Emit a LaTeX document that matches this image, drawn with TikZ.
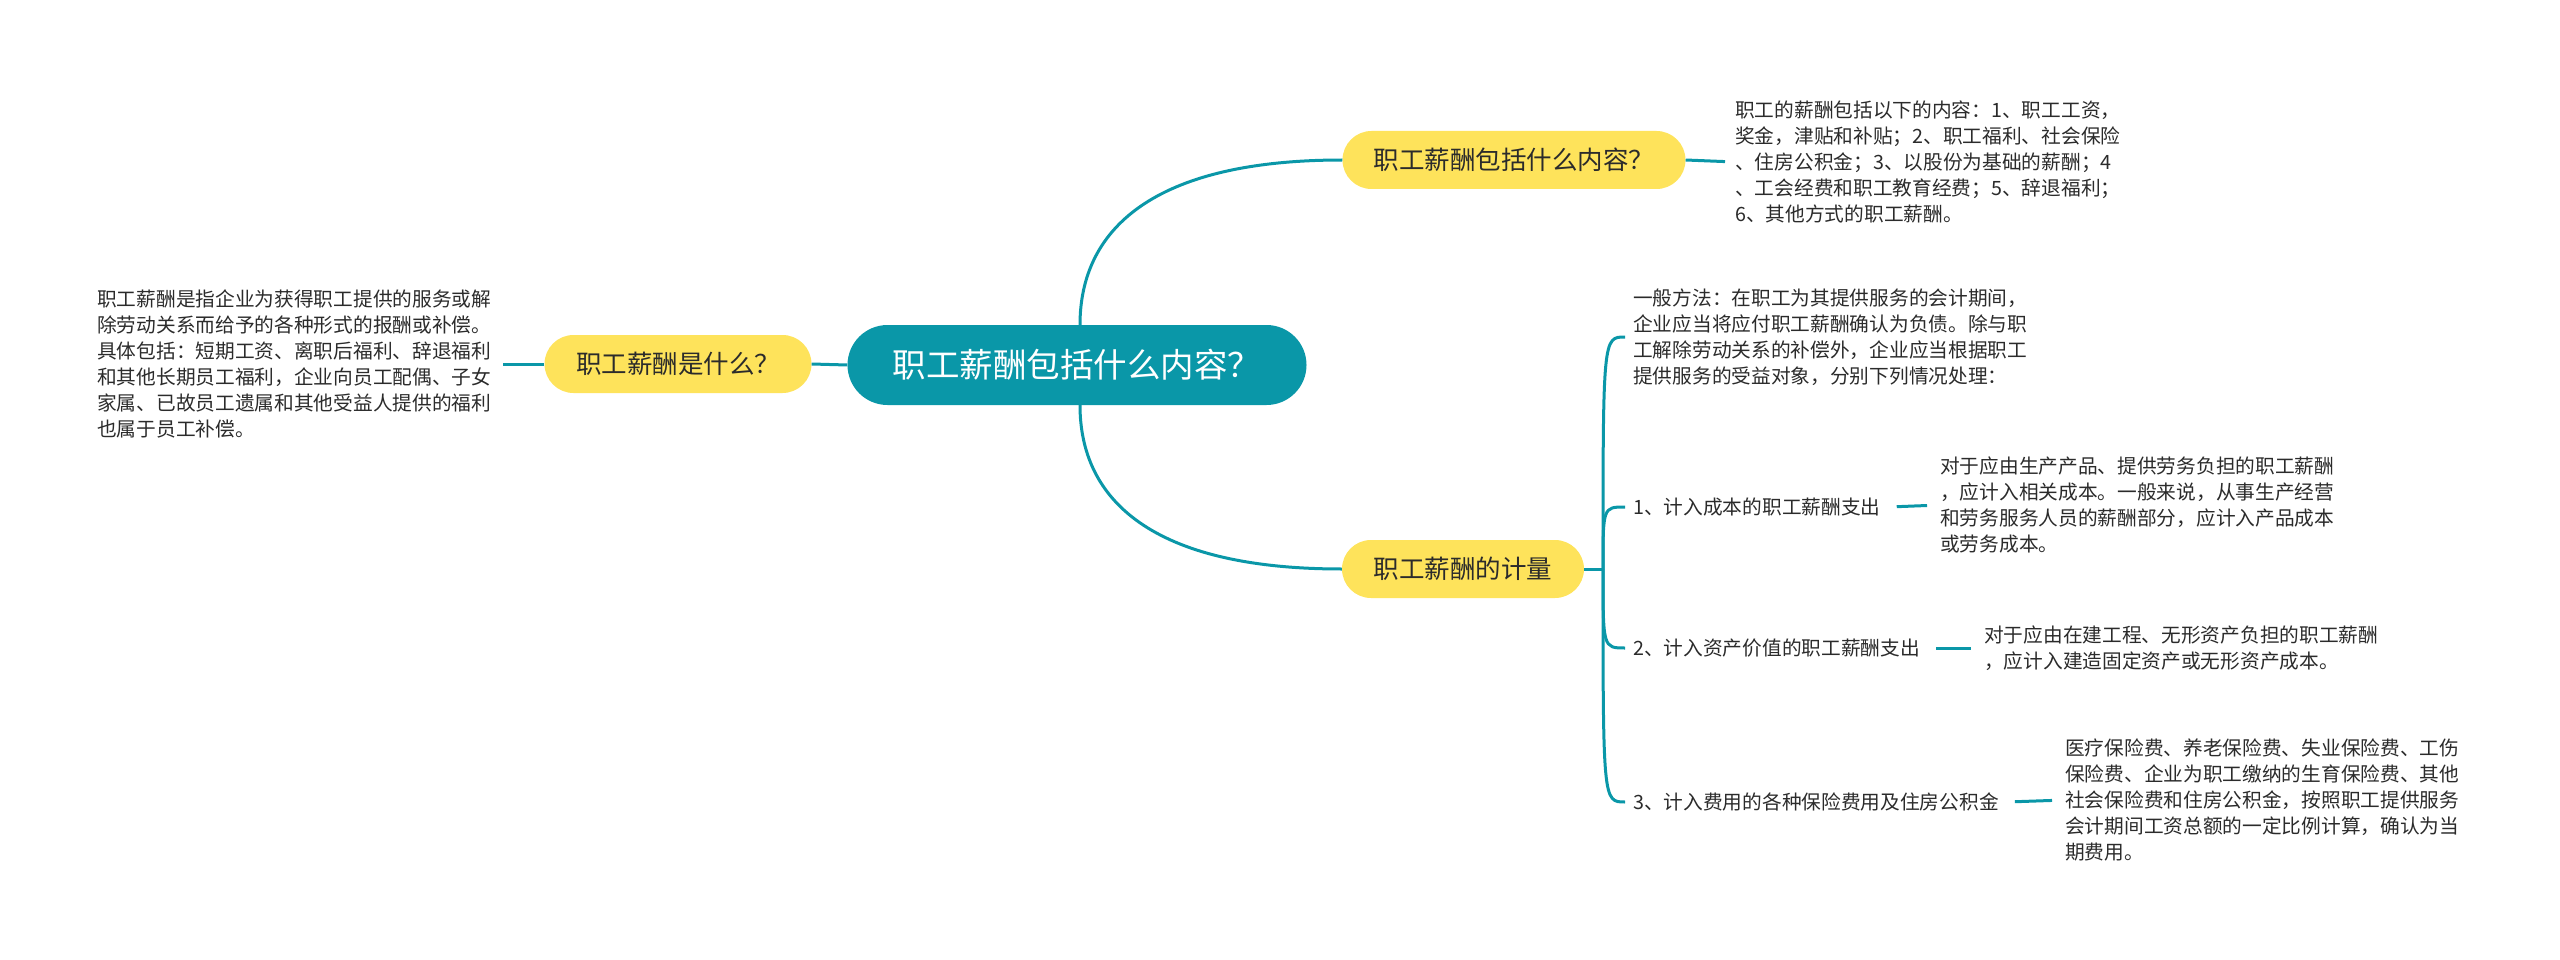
\documentclass[tikz,border=0pt]{standalone}
\usepackage{fontspec}
\setmainfont{Noto Sans CJK SC}
\definecolor{teal1}{HTML}{0A97A8}
\definecolor{yel}{HTML}{FEE35B}
\definecolor{txt}{HTML}{2B2B2B}
\begin{document}
\begin{tikzpicture}[x=1pt,y=-1pt,
  conn/.style={draw=teal1, line width=3pt},
  pill/.style={rounded corners=29pt, fill=yel, text=txt, minimum height=58pt, inner sep=0pt, font=\fontsize{25.5}{30}\selectfont},
  body/.style={anchor=west, align=left, inner sep=0pt, text=txt, font=\fontsize{19.7}{26}\selectfont},
]
\path[use as bounding box] (0,0) rectangle (2560,960);

\node[fill=teal1, text=white, rounded corners=40pt, minimum width=459pt, minimum height=80pt, inner sep=0pt, font=\fontsize{33.5}{38}\selectfont] (c) at (1077,365) {职工薪酬包括什么内容？};

\node[pill, minimum width=267pt] (l) at (678,364) {职工薪酬是什么？};
\node[pill, minimum width=343pt] (t) at (1514,160) {职工薪酬包括什么内容？};
\node[pill, minimum width=242pt] (b) at (1463,569) {职工薪酬的计量};

\node[body] (lt) at (97,364) {职工薪酬是指企业为获得职工提供的服务或解\\
除劳动关系而给予的各种形式的报酬或补偿。\\
具体包括：短期工资、离职后福利、辞退福利\\
和其他长期员工福利，企业向员工配偶、子女\\
家属、已故员工遗属和其他受益人提供的福利\\
也属于员工补偿。};

\node[body] (tt) at (1735,162) {职工的薪酬包括以下的内容：1、职工工资，\\
奖金，津贴和补贴；2、职工福利、社会保险\\
、住房公积金；3、以股份为基础的薪酬；4\\
、工会经费和职工教育经费；5、辞退福利；\\
6、其他方式的职工薪酬。};

\node[body, inner xsep=8pt] (g) at (1625,337) {一般方法：在职工为其提供服务的会计期间，\\
企业应当将应付职工薪酬确认为负债。除与职\\
工解除劳动关系的补偿外，企业应当根据职工\\
提供服务的受益对象，分别下列情况处理：};

\node[body, inner xsep=8pt] (i1) at (1625,507) {1、计入成本的职工薪酬支出};
\node[body, inner xsep=8pt] (i2) at (1625,648) {2、计入资产价值的职工薪酬支出};
\node[body, inner xsep=8pt] (i3) at (1625,802) {3、计入费用的各种保险费用及住房公积金};

\node[body] (d1) at (1940,505) {对于应由生产产品、提供劳务负担的职工薪酬\\
，应计入相关成本。一般来说，从事生产经营\\
和劳务服务人员的薪酬部分，应计入产品成本\\
或劳务成本。};
\node[body] (d2) at (1984,648) {对于应由在建工程、无形资产负担的职工薪酬\\
，应计入建造固定资产或无形资产成本。};
\node[body] (d3) at (2065,800) {医疗保险费、养老保险费、失业保险费、工伤\\
保险费、企业为职工缴纳的生育保险费、其他\\
社会保险费和住房公积金，按照职工提供服务\\
会计期间工资总额的一定比例计算，确认为当\\
期费用。};

\coordinate (j) at (1603,569);

\draw[conn] (c.west) -- (l.east);
\draw[conn] (l.west) -- ([xshift=12pt]lt.east);
\draw[conn] ([xshift=3pt]c.north) .. controls (1080,230) and (1152,160) .. (t.west);
\draw[conn] ([xshift=3pt]c.south) .. controls (1080,500) and (1152,569) .. (b.west);
\draw[conn, shorten >=10pt] (t.east) -- (tt.west);
\draw[conn] (b.east) -- (j);
\foreach \n in {g,i1,i2,i3}
  \draw[conn] (j) .. controls (j |- \n.west) and (j |- \n.west) .. (\n.west);
\draw[conn, shorten <=8pt, shorten >=13pt] (i1.east) -- (d1.west);
\draw[conn, shorten <=8pt, shorten >=13pt] (i2.east) -- (d2.west);
\draw[conn, shorten <=8pt, shorten >=13pt] (i3.east) -- (d3.west);
\end{tikzpicture}
\end{document}
